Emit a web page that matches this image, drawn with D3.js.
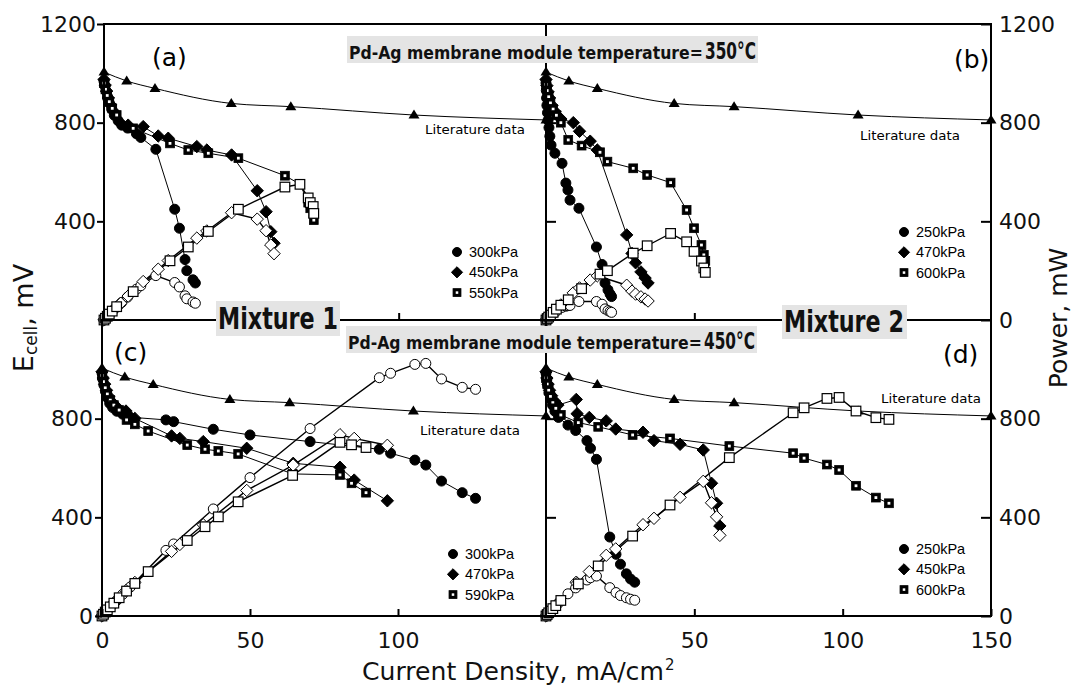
<!DOCTYPE html>
<html><head><meta charset="utf-8">
<script src="https://cdn.jsdelivr.net/npm/d3@7"></script>
<style>body{margin:0;background:#fff}svg{display:block}</style>
</head><body>
<svg id="chart" width="1073" height="686"></svg>
<script>
// ---------- DATA ----------
const litX = [0, 7.7, 17.3, 43.2, 63.4, 105.2, 150];
const litE = [1005, 969, 939, 878, 865, 831, 811];

const yTickValues = [0, 400, 800, 1200];
const xTickValues = [0, 50, 100, 150];

// Panel (a) Mixture 1, 350°C
const a1X = [0, 0.3, 0.7, 1.2, 1.8, 2.6, 3.5, 4.8, 6, 8, 11, 12.5, 17.6, 24, 25.6, 27.5, 28.1, 30.2, 31];
const a1E = [968, 950, 928, 905, 880, 855, 830, 808, 790, 778, 755, 740, 692, 449, 372, 245, 200, 163, 150];
const a1P = [0, 4, 10, 16, 24, 33, 44, 58, 71, 93, 125, 139, 180, 152, 134, 98, 86, 73, 68];
const a2X = [0, 0.4, 0.9, 1.5, 2.3, 3.3, 5.7, 8.2, 13.3, 18.4, 21.8, 31.5, 34.9, 43.3, 52, 55, 56.6, 57.7];
const a2E = [975, 952, 928, 900, 872, 845, 797, 790, 784, 746, 737, 703, 689, 669, 524, 439, 358, 311];
const a2P = [0, 6, 13, 20, 30, 42, 68, 97, 156, 206, 241, 332, 361, 435, 409, 362, 304, 269];
const a3X = [0, 0.5, 1.1, 1.8, 2.8, 4.3, 9.9, 22.4, 28.6, 35.4, 45.6, 61.4, 66.5, 69.3, 70, 71, 71.2];
const a3E = [960, 935, 910, 885, 858, 831, 777, 716, 689, 676, 656, 585, 551, 476, 453, 432, 405];
const a3P = [0, 7, 15, 24, 36, 54, 115, 240, 296, 359, 449, 539, 550, 495, 476, 460, 432];
const legendA = ["300kPa", "450kPa", "550kPa"];

// Panel (b) Mixture 2, 350°C
const b1X = [0, 0.1, 0.2, 0.3, 0.5, 0.7, 1, 1.3, 1.7, 3, 5.4, 6.7, 7.4, 8.1, 11.1, 17, 18.9, 19.9, 20.9, 21.6, 22.1];
const b1E = [961, 930, 900, 870, 840, 810, 780, 745, 709, 676, 635, 555, 527, 486, 453, 296, 225, 150, 122, 105, 95];
const b1P = [0, 1, 3, 4, 6, 9, 12, 15, 18, 30, 51, 56, 58, 59, 75, 75, 64, 45, 38, 34, 31];
const b2X = [0, 0.3, 0.7, 1.2, 2, 3, 5, 9.2, 11.3, 14.9, 17.3, 27.2, 29, 30.2, 32, 33.4, 34.4];
const b2E = [975, 950, 925, 900, 870, 845, 815, 800, 765, 725, 689, 345, 270, 232, 195, 170, 150];
const b2P = [0, 4, 10, 16, 26, 38, 61, 110, 130, 162, 179, 141, 117, 105, 94, 85, 77];
const b3X = [0, 0.4, 0.9, 1.5, 2.4, 3.5, 5, 7.5, 12, 18.2, 20.7, 29.4, 34.1, 42, 47.4, 49.9, 52.4, 53.2, 53.7];
const b3E = [955, 930, 905, 880, 855, 830, 800, 730, 707, 680, 642, 615, 588, 557, 446, 372, 304, 264, 240];
const b3P = [0, 6, 12, 20, 31, 44, 60, 82, 127, 186, 200, 271, 301, 351, 317, 278, 239, 211, 193];
const legendB = ["250kPa", "470kPa", "600kPa"];

// Panel (c) Mixture 1, 450°C
const c1X = [0, 0.3, 0.7, 1.2, 1.8, 2.6, 3.6, 5, 7, 9.5, 21.6, 24.2, 37.6, 50, 70.3, 93.7, 97.5, 105.7, 109.4, 114.7, 121.7, 126.2];
const c1E = [985, 960, 935, 910, 885, 862, 845, 830, 818, 806, 795, 788, 757, 734, 707, 676, 660, 632, 612, 547, 500, 477];
const c1P = [0, 4, 10, 17, 24, 34, 46, 63, 88, 117, 266, 292, 434, 561, 760, 966, 984, 1020, 1024, 961, 927, 919];
const c2X = [0, 0.4, 0.9, 1.5, 2.3, 3.3, 4.8, 8.1, 11.1, 23.5, 26.3, 34.2, 48.9, 64.6, 80.4, 85.2, 96.4];
const c2E = [990, 965, 940, 915, 890, 868, 850, 831, 801, 730, 720, 707, 680, 619, 603, 551, 467];
const c2P = [0, 6, 13, 21, 31, 44, 62, 103, 136, 262, 290, 370, 509, 612, 735, 720, 692];
const c3X = [0, 0.5, 1.1, 1.8, 2.8, 4, 5.8, 8.3, 11.1, 15.6, 28.8, 34.8, 39.3, 46, 64.4, 80.4, 84.3, 89.2];
const c3E = [975, 950, 925, 900, 875, 855, 835, 795, 777, 750, 693, 676, 669, 657, 576, 572, 538, 500];
const c3P = [0, 7, 16, 25, 37, 52, 74, 101, 132, 180, 306, 362, 402, 463, 570, 704, 694, 683];
const legendC = ["300kPa", "470kPa", "590kPa"];

// Panel (d) Mixture 2, 450°C
const d1X = [0, 0.3, 0.6, 1, 1.5, 2.2, 3, 4.2, 7.4, 10, 13.8, 15, 17, 21.5, 23.6, 25.1, 27.1, 28.5, 29.9];
const d1E = [985, 960, 935, 905, 880, 855, 830, 805, 774, 752, 711, 680, 635, 320, 250, 210, 171, 150, 137];
const d1P = [0, 4, 9, 14, 20, 29, 38, 52, 90, 114, 146, 155, 162, 115, 95, 83, 74, 68, 64];
const d2X = [0, 0.3, 0.7, 1.2, 1.9, 2.8, 4, 10.2, 10.5, 14.6, 20.3, 23.5, 32.7, 36.4, 45.2, 53, 55.8, 57.5, 58.6];
const d2E = [990, 965, 940, 915, 893, 872, 855, 878, 820, 805, 791, 758, 745, 711, 696, 673, 538, 457, 365];
const d2P = [0, 4, 11, 17, 26, 37, 52, 137, 132, 180, 246, 272, 370, 396, 481, 546, 459, 402, 327];
const d3X = [0, 0.4, 0.9, 1.5, 2.3, 3.3, 5, 10.9, 17.6, 29.2, 41.8, 61.8, 83.3, 87, 94.7, 98.8, 104.5, 111.2, 115.6];
const d3E = [965, 940, 915, 890, 865, 842, 815, 784, 767, 734, 720, 689, 660, 640, 614, 592, 528, 480, 457];
const d3P = [0, 6, 13, 20, 30, 42, 63, 130, 203, 324, 450, 642, 824, 844, 882, 886, 831, 804, 797];
const legendD = ["250kPa", "450kPa", "600kPa"];

// ---------- CHART ----------
const svg = d3.select("#chart");
const TICKFONT = "'DejaVu Sans', Verdana, sans-serif";
const GOTHIC = "'DejaVu Sans', sans-serif";

const xA = d3.scaleLinear().domain([0, 150]).range([104, 546]);
const xC = d3.scaleLinear().domain([0, 150]).range([102, 546]);
const xR = d3.scaleLinear().domain([0, 150]).range([546, 991]);
const yTop = d3.scaleLinear().domain([0, 1200]).range([320, 24]);
const yBot = d3.scaleLinear().domain([0, 1200]).range([616, 320]);

const zip = (xs, ys) => xs.map((v, i) => [v, ys[i]]);

function fitText(parent, x, y, width, txt, attrs) {
  const t = parent.append("text").attr("x", 0).attr("y", 0).text(txt);
  Object.entries(attrs).forEach(([k, v]) => t.attr(k, v));
  const w = t.node().getComputedTextLength();
  const k = w > 0 ? width / w : 1;
  t.attr("transform", `translate(${x},${y}) scale(${k},1)`);
  return t;
}

const panels = [
  {x: xA, y: yTop, series: [[a1X, a1E, a1P], [a2X, a2E, a2P], [a3X, a3E, a3P]], legend: legendA,
   leg: [457, 252], lit: [425, 133.5], tag: "(a)", tagPos: [152, 66]},
  {x: xR, y: yTop, series: [[b1X, b1E, b1P], [b2X, b2E, b2P], [b3X, b3E, b3P]], legend: legendB,
   leg: [904, 232], lit: [860, 139.5], tag: "(b)", tagPos: [954, 68], tagBg: true},
  {x: xC, y: yBot, series: [[c1X, c1E, c1P], [c2X, c2E, c2P], [c3X, c3E, c3P]], legend: legendC,
   leg: [453, 554], lit: [420, 434.5], tag: "(c)", tagPos: [114, 361]},
  {x: xR, y: yBot, series: [[d1X, d1E, d1P], [d2X, d2E, d2P], [d3X, d3E, d3P]], legend: legendD,
   leg: [904, 549], lit: [881, 402.5], tag: "(d)", tagPos: [943, 363]}
];

const shapes = ["circle", "diamond", "square"];

function marker(g, shape, filled, cx, cy, s) {
  s = s || 1;
  if (shape === "circle") {
    g.append("circle").attr("cx", cx).attr("cy", cy).attr("r", 5 * s)
      .attr("fill", filled ? "#000" : "#fff").attr("stroke", "#000").attr("stroke-width", 1);
  } else if (shape === "diamond") {
    const r = 6.2 * s;
    g.append("path").attr("d", `M${cx},${cy - r}L${cx + r},${cy}L${cx},${cy + r}L${cx - r},${cy}Z`)
      .attr("fill", filled ? "#000" : "#fff").attr("stroke", "#000").attr("stroke-width", 1);
  } else if (shape === "square") {
    const h = (filled ? 4.4 : 4.8) * s;
    g.append("rect").attr("x", cx - h).attr("y", cy - h).attr("width", 2 * h).attr("height", 2 * h)
      .attr("fill", filled ? "#000" : "#fff").attr("stroke", "#000").attr("stroke-width", filled ? 0.8 : 1.2);
    if (filled) {
      g.append("rect").attr("x", cx - 1.4 * s).attr("y", cy - 1.4 * s).attr("width", 2.8 * s).attr("height", 2.8 * s)
        .attr("fill", "#fff");
    }
  } else if (shape === "triangle") {
    g.append("path").attr("d", `M${cx},${cy - 5.5}L${cx + 5.5},${cy + 3.5}L${cx - 5.5},${cy + 3.5}Z`).attr("fill", "#000");
  }
}

panels.forEach(p => {
  const g = svg.append("g");
  const line = d3.line().x(d => p.x(d[0])).y(d => p.y(d[1]));
  const lit = zip(litX, litE);
  g.append("path").attr("d", d3.line().curve(d3.curveMonotoneX).x(d => p.x(d[0])).y(d => p.y(d[1]))(lit))
    .attr("fill", "none").attr("stroke", "#000").attr("stroke-width", 1);
  lit.forEach(d => marker(g, "triangle", true, p.x(d[0]), p.y(d[1])));
  p.series.forEach(s => {
    g.append("path").attr("d", line(zip(s[0], s[1]))).attr("fill", "none").attr("stroke", "#000").attr("stroke-width", 1);
  });
  p.series.forEach((s, i) => {
    zip(s[0], s[1]).forEach(d => marker(g, shapes[i], true, p.x(d[0]), p.y(d[1])));
  });
  p.series.forEach(s => {
    g.append("path").attr("d", line(zip(s[0], s[2]))).attr("fill", "none").attr("stroke", "#000").attr("stroke-width", 1.4);
  });
  p.series.forEach((s, i) => {
    zip(s[0], s[2]).forEach(d => marker(g, shapes[i], false, p.x(d[0]), p.y(d[1])));
  });
  p.legend.forEach((lab, i) => {
    const ly = p.leg[1] + i * 20.3;
    marker(g, shapes[i], true, p.leg[0], ly, 0.9);
    g.append("text").attr("x", p.leg[0] + 12).attr("y", ly + 5).text(lab)
      .attr("font-family", "'Liberation Sans', Arial, sans-serif").attr("font-size", 14.5).attr("fill", "#000");
  });
  fitText(g, p.lit[0], p.lit[1], 100, "Literature data",
    {"font-family": GOTHIC, "font-size": 13, "fill": "#000"});
  if (p.tagBg) {
    g.append("rect").attr("x", 950).attr("y", 40).attr("width", 40).attr("height", 36).attr("fill", "#fff");
  }
  g.append("text").attr("x", p.tagPos[0]).attr("y", p.tagPos[1]).text(p.tag)
    .attr("font-family", GOTHIC).attr("font-size", 25).attr("fill", "#000");
});

// ---------- FRAME ----------
const frame = svg.append("g").attr("stroke", "#000").attr("stroke-width", 2).attr("fill", "none");
frame.append("path").attr("d", "M104,24H991V616H102V320H104Z");
frame.append("path").attr("d", "M104,24V320");
frame.append("path").attr("d", "M546,24V616");
frame.append("path").attr("d", "M104,320H991");

// ---------- AXES ----------
function styleAxis(sel) {
  sel.select(".domain").remove();
  sel.selectAll(".tick line").attr("stroke", "#000").attr("stroke-width", 2);
  sel.selectAll(".tick text").attr("font-family", TICKFONT).attr("font-size", 22).attr("fill", "#111");
}
const fmt = d3.format("d");
svg.append("g").attr("transform", "translate(104,0)")
  .call(d3.axisLeft(yTop).tickValues(yTickValues.slice(1)).tickSize(7).tickPadding(1).tickFormat(fmt)).call(styleAxis);
svg.append("g").attr("transform", "translate(102,0)")
  .call(d3.axisLeft(yBot).tickValues(yTickValues.slice(0, 3)).tickSize(7).tickPadding(2).tickFormat(fmt)).call(styleAxis);
svg.append("g").attr("transform", "translate(991,0)")
  .call(d3.axisRight(yTop).tickValues(yTickValues).tickSize(-10).tickPadding(8).tickFormat(fmt)).call(styleAxis);
svg.append("g").attr("transform", "translate(991,0)")
  .call(d3.axisRight(yBot).tickValues(yTickValues.slice(0, 3)).tickSize(-10).tickPadding(8).tickFormat(fmt)).call(styleAxis);
svg.append("g").attr("transform", "translate(546,0)")
  .call(d3.axisRight(yTop).tickValues([400, 800]).tickSize(10).tickFormat("")).call(styleAxis);
svg.append("g").attr("transform", "translate(546,0)")
  .call(d3.axisRight(yBot).tickValues([400, 800]).tickSize(10).tickFormat("")).call(styleAxis);
svg.append("g").attr("transform", "translate(0,616)")
  .call(d3.axisBottom(xC).tickValues(xTickValues.slice(0, 3)).tickSize(-7).tickPadding(16).tickFormat(fmt)).call(styleAxis);
svg.append("g").attr("transform", "translate(0,616)")
  .call(d3.axisBottom(xR).tickValues(xTickValues.slice(1)).tickSize(-7).tickPadding(16).tickFormat(fmt)).call(styleAxis);
svg.append("g").attr("transform", "translate(0,320)")
  .call(d3.axisBottom(xA).tickValues([50, 100]).tickSize(-7).tickFormat("")).call(styleAxis);
svg.append("g").attr("transform", "translate(0,320)")
  .call(d3.axisBottom(xR).tickValues([50, 100]).tickSize(-7).tickFormat("")).call(styleAxis);

// ---------- LABEL BOXES ----------
const lab = svg.append("g");
const GREY = "#e4e4e4";
function titleBox(x0, y0, x1, y1, base, temp) {
  lab.append("rect").attr("x", x0).attr("y", y0).attr("width", x1 - x0).attr("height", y1 - y0).attr("fill", GREY);
  fitText(lab, x0 + 2, base, 354, "Pd-Ag membrane module temperature=",
    {"font-family": GOTHIC, "font-weight": "bold", "fill": "#111", "font-size": 18});
  fitText(lab, x0 + 358, base, 51, temp,
    {"font-family": GOTHIC, "font-weight": "bold", "fill": "#111", "font-size": 23});
}
titleBox(347, 36, 758, 63, 58.5, "350°C");
titleBox(346, 326, 757, 353, 348.5, "450°C");
function mixBox(x0, y0, x1, y1, base, txt) {
  lab.append("rect").attr("x", x0).attr("y", y0).attr("width", x1 - x0).attr("height", y1 - y0).attr("fill", GREY);
  fitText(lab, x0 + 2, base, 120, txt,
    {"font-family": GOTHIC, "font-weight": "bold", "fill": "#111", "font-size": 30});
}
mixBox(216, 301, 340, 336, 329, "Mixture 1");
mixBox(782, 305, 907, 339, 332, "Mixture 2");

// ---------- AXIS TITLES ----------
fitText(svg, 362, 680, 302, "Current Density, mA/cm",
  {"font-family": TICKFONT, "font-size": 24, "fill": "#111"});
svg.append("text").attr("x", 665).attr("y", 670).attr("font-family", TICKFONT).attr("font-size", 15)
  .attr("fill", "#111").text("2");

const yl = svg.append("text").attr("transform", "translate(33,318) rotate(-90)").attr("text-anchor", "middle")
  .attr("font-family", TICKFONT).attr("font-size", 27).attr("fill", "#111");
yl.append("tspan").text("E");
yl.append("tspan").attr("font-size", 17).attr("dy", 4).text("cell");
yl.append("tspan").attr("dy", -4).text(", mV");

svg.append("text").attr("transform", "translate(1067,318) rotate(-90)").attr("text-anchor", "middle")
  .attr("font-family", TICKFONT).attr("font-size", 25).attr("fill", "#111").text("Power, mW");
</script>
</body></html>
